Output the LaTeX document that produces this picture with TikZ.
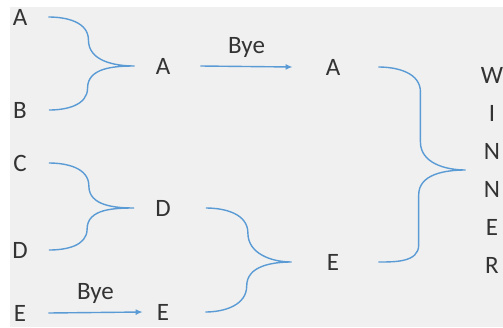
\documentclass[tikz,border=0pt]{standalone}
\usepackage{fontspec}
\setmainfont{Carlito}
\usetikzlibrary{arrows.meta}
\definecolor{bracketblue}{RGB}{91,155,213}
\definecolor{paper}{RGB}{240,240,240}
\tikzset{
	team/.style = {inner sep = 0pt,
				   text = black!80,
				   font = \fontsize{25}{38}\selectfont},
	bracket/.style = {draw = bracketblue,
					  line width = 1.4pt},
	bye/.style = {bracket,
				  -{Latex[length = 7pt, width = 6pt]}}
}
\begin{document}
\begin{tikzpicture}[x = 1pt, y = -1pt]
	\useasboundingbox (0, 0) rectangle (503, 327);
	\fill[white] (0, 0) rectangle (503, 327);
	\fill[paper] (10, 7) rectangle (503, 327);

	\draw (20, 17) node[team](l1){A};
	\draw (20, 110) node[team](l2){B};
	\draw (20, 163) node[team](l3){C};
	\draw (20, 250) node[team](l4){D};
	\draw (20, 313) node[team](l5){E};

	\draw (163, 66) node[team](s1){A};
	\draw (163, 208) node[team](s2){D};
	\draw (163, 312) node[team](s3){E};

	\draw (333, 67) node[team](t1){A};
	\draw (333, 262) node[team](t2){E};

	\draw (492, 170) node[team,
					  align = center
			   ](w){W\\I\\N\\N\\E\\R};

	\draw[bracket] ([xshift = 21pt]l1.east) to[out = 0, in = 90] ++(40, 23)
		to[out = -90, in = 180] ([xshift = -21pt]s1.west)
		to[out = 180, in = 90] ++(-47, 22) to[out = -90, in = 0] ([xshift = 22pt]l2.east);

	\draw[bracket] ([xshift = 22pt]l3.east) to[out = 0, in = 90] ++(40, 23)
		to[out = -90, in = 180] ([xshift = -21pt]s2.west)
		to[out = 180, in = 90] ++(-47, 21) to[out = -90, in = 0] ([xshift = 21pt]l4.east);

	\draw[bye] ([xshift = 22pt]l5.east) -- ([xshift = -14pt]s3.west)
		node[midway, above = 8pt, team]{Bye};

	\draw[bye] ([xshift = 30pt]s1.east) -- ([xshift = -33pt]t1.west)
		node[midway, above = 8pt, team]{Bye};

	\draw[bracket] ([xshift = 35pt]s2.east) to[out = 0, in = 90] ++(42, 25)
		to[out = -90, in = 180] ([xshift = -35pt]t2.west)
		to[out = 180, in = 90] ++(-45, 24) to[out = -90, in = 0] ([xshift = 36pt]s3.east);

	\draw[bracket] ([xshift = 38pt]t1.east) to[out = 0, in = 90] ++(42, 25) -- ++(0, 50)
		to[out = -90, in = 180] ([xshift = -15pt]w.west)
		to[out = 180, in = 90] ++(-47, 25) -- ++(0, 50) to[out = -90, in = 0] ([xshift = 39pt]t2.east);
\end{tikzpicture}
\end{document}
